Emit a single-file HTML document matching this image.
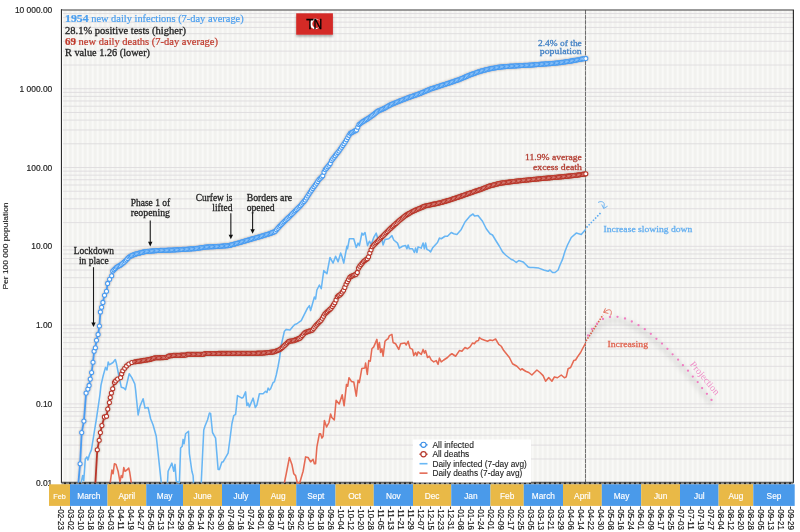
<!DOCTYPE html><html><head><meta charset="utf-8"><style>html,body{margin:0;padding:0;background:#fff;width:800px;height:532px;overflow:hidden}svg{display:block}</style></head><body>
<svg width="800" height="532" viewBox="0 0 800 532" style="will-change:transform">
<defs><pattern id="stripes" x="0.6" y="0" width="5" height="10" patternUnits="userSpaceOnUse"><rect width="5" height="10" fill="#f2f2ef"/><rect x="1.2" width="1.8" height="10" fill="#fafaf8"/></pattern><filter id="sh" x="-5%" y="-5%" width="110%" height="110%"><feGaussianBlur in="SourceAlpha" stdDeviation="0.9" result="b"/><feOffset in="b" dx="0" dy="-0.2" result="o"/><feFlood flood-color="#7a6048" flood-opacity="0.5" result="f"/><feComposite in="f" in2="o" operator="in" result="s"/><feMerge><feMergeNode in="s"/><feMergeNode in="SourceGraphic"/></feMerge></filter><filter id="sh2" x="-10%" y="-10%" width="120%" height="130%"><feGaussianBlur in="SourceAlpha" stdDeviation="1.6"/><feOffset dx="0" dy="3"/><feComponentTransfer><feFuncA type="linear" slope="0.22"/></feComponentTransfer><feMerge><feMergeNode/><feMergeNode in="SourceGraphic"/></feMerge></filter><filter id="shflag" x="-20%" y="-20%" width="140%" height="160%"><feGaussianBlur in="SourceAlpha" stdDeviation="1.2"/><feOffset dx="0" dy="1.5"/><feComponentTransfer><feFuncA type="linear" slope="0.3"/></feComponentTransfer><feMerge><feMergeNode/><feMergeNode in="SourceGraphic"/></feMerge></filter><filter id="blur3" x="-10%" y="-10%" width="120%" height="120%"><feGaussianBlur stdDeviation="2"/></filter></defs>
<rect x="61.5" y="9.95" width="731.9" height="472.75" fill="url(#stripes)"/>
<path d="M61.5 482.7H793.4M61.5 458.98H793.4M61.5 445.11H793.4M61.5 435.26H793.4M61.5 427.63H793.4M61.5 421.39H793.4M61.5 416.11H793.4M61.5 411.54H793.4M61.5 407.51H793.4M61.5 403.91H793.4M61.5 380.19H793.4M61.5 366.32H793.4M61.5 356.47H793.4M61.5 348.84H793.4M61.5 342.6H793.4M61.5 337.32H793.4M61.5 332.75H793.4M61.5 328.72H793.4M61.5 325.12H793.4M61.5 301.4H793.4M61.5 287.52H793.4M61.5 277.68H793.4M61.5 270.04H793.4M61.5 263.8H793.4M61.5 258.53H793.4M61.5 253.96H793.4M61.5 249.93H793.4M61.5 246.32H793.4M61.5 222.61H793.4M61.5 208.73H793.4M61.5 198.89H793.4M61.5 191.25H793.4M61.5 185.01H793.4M61.5 179.74H793.4M61.5 175.17H793.4M61.5 171.14H793.4M61.5 167.53H793.4M61.5 143.81H793.4M61.5 129.94H793.4M61.5 120.1H793.4M61.5 112.46H793.4M61.5 106.22H793.4M61.5 100.95H793.4M61.5 96.38H793.4M61.5 92.35H793.4M61.5 88.74H793.4M61.5 65.02H793.4M61.5 51.15H793.4M61.5 41.3H793.4M61.5 33.67H793.4M61.5 27.43H793.4M61.5 22.15H793.4M61.5 17.59H793.4M61.5 13.56H793.4" stroke="#dedbde" stroke-width="0.9" fill="none"/>
<path d="M61.0 9.95H794.0" stroke="#7a7a7a" stroke-width="1.4"/>
<path d="M61.5 9.35V482.7 M793.4 9.95V482.7" stroke="#2f2f2f" stroke-width="1.2"/>
<rect x="62.1" y="10.649999999999999" width="1" height="471.75" fill="#ffffff"/>
<path d="M61.0 482.3H794.0" stroke="#333" stroke-width="1.0"/>
<path d="M61.5 483.59999999999997H793.4" stroke="#8c8c88" stroke-width="1.6"/>
<path d="M61.5 483.3H793.4" stroke="#111" stroke-width="1.8" stroke-dasharray="1.6 3.4" stroke-dashoffset="2.3"/>
<text x="14.92" y="13.05" font-family="Liberation Sans" font-size="8.9" fill="#222" stroke="#222" stroke-width="0.18" textLength="37.38" lengthAdjust="spacingAndGlyphs">10 000.00</text>
<text x="19.6" y="91.84" font-family="Liberation Sans" font-size="8.9" fill="#222" stroke="#222" stroke-width="0.18" textLength="32.7" lengthAdjust="spacingAndGlyphs">1 000.00</text>
<text x="26.6" y="170.63" font-family="Liberation Sans" font-size="8.9" fill="#222" stroke="#222" stroke-width="0.18" textLength="25.7" lengthAdjust="spacingAndGlyphs">100.00</text>
<text x="31.28" y="249.42" font-family="Liberation Sans" font-size="8.9" fill="#222" stroke="#222" stroke-width="0.18" textLength="21.02" lengthAdjust="spacingAndGlyphs">10.00</text>
<text x="35.95" y="328.22" font-family="Liberation Sans" font-size="8.9" fill="#222" stroke="#222" stroke-width="0.18" textLength="16.35" lengthAdjust="spacingAndGlyphs">1.00</text>
<text x="35.95" y="407.01" font-family="Liberation Sans" font-size="8.9" fill="#222" stroke="#222" stroke-width="0.18" textLength="16.35" lengthAdjust="spacingAndGlyphs">0.10</text>
<text x="35.95" y="485.8" font-family="Liberation Sans" font-size="8.9" fill="#222" stroke="#222" stroke-width="0.18" textLength="16.35" lengthAdjust="spacingAndGlyphs">0.01</text>
<text transform="translate(7.9,246) rotate(-90)" text-anchor="middle" font-family="Liberation Sans" font-size="8" fill="#222" stroke="#222" stroke-width="0.12" textLength="87" lengthAdjust="spacingAndGlyphs">Per 100 000 population</text>
<rect x="49" y="484.3" width="21" height="21.6" fill="#e9b947"/>
<text x="59.5" y="498.8" text-anchor="middle" font-family="Liberation Sans" font-size="7.2" fill="#fff" stroke="#fff" stroke-width="0.15">Feb</text>
<rect x="70" y="484.3" width="37.5" height="21.6" fill="#4a9aea"/>
<text x="88.75" y="498.8" text-anchor="middle" font-family="Liberation Sans" font-size="8.3" fill="#fff" stroke="#fff" stroke-width="0.15">March</text>
<rect x="107.5" y="484.3" width="38.75" height="21.6" fill="#e9b947"/>
<text x="126.88" y="498.8" text-anchor="middle" font-family="Liberation Sans" font-size="8.3" fill="#fff" stroke="#fff" stroke-width="0.15">April</text>
<rect x="146.25" y="484.3" width="36.75" height="21.6" fill="#4a9aea"/>
<text x="164.62" y="498.8" text-anchor="middle" font-family="Liberation Sans" font-size="8.3" fill="#fff" stroke="#fff" stroke-width="0.15">May</text>
<rect x="183" y="484.3" width="39" height="21.6" fill="#e9b947"/>
<text x="202.5" y="498.8" text-anchor="middle" font-family="Liberation Sans" font-size="8.3" fill="#fff" stroke="#fff" stroke-width="0.15">June</text>
<rect x="222" y="484.3" width="38" height="21.6" fill="#4a9aea"/>
<text x="241" y="498.8" text-anchor="middle" font-family="Liberation Sans" font-size="8.3" fill="#fff" stroke="#fff" stroke-width="0.15">July</text>
<rect x="260" y="484.3" width="36.25" height="21.6" fill="#e9b947"/>
<text x="278.12" y="498.8" text-anchor="middle" font-family="Liberation Sans" font-size="8.3" fill="#fff" stroke="#fff" stroke-width="0.15">Aug</text>
<rect x="296.25" y="484.3" width="39.25" height="21.6" fill="#4a9aea"/>
<text x="315.88" y="498.8" text-anchor="middle" font-family="Liberation Sans" font-size="8.3" fill="#fff" stroke="#fff" stroke-width="0.15">Sept</text>
<rect x="335.5" y="484.3" width="38.25" height="21.6" fill="#e9b947"/>
<text x="354.62" y="498.8" text-anchor="middle" font-family="Liberation Sans" font-size="8.3" fill="#fff" stroke="#fff" stroke-width="0.15">Oct</text>
<rect x="373.75" y="484.3" width="39.25" height="21.6" fill="#4a9aea"/>
<text x="393.38" y="498.8" text-anchor="middle" font-family="Liberation Sans" font-size="8.3" fill="#fff" stroke="#fff" stroke-width="0.15">Nov</text>
<rect x="413" y="484.3" width="38.25" height="21.6" fill="#e9b947"/>
<text x="432.12" y="498.8" text-anchor="middle" font-family="Liberation Sans" font-size="8.3" fill="#fff" stroke="#fff" stroke-width="0.15">Dec</text>
<rect x="451.25" y="484.3" width="39.25" height="21.6" fill="#4a9aea"/>
<text x="470.88" y="498.8" text-anchor="middle" font-family="Liberation Sans" font-size="8.3" fill="#fff" stroke="#fff" stroke-width="0.15">Jan</text>
<rect x="490.5" y="484.3" width="33.25" height="21.6" fill="#e9b947"/>
<text x="507.12" y="498.8" text-anchor="middle" font-family="Liberation Sans" font-size="8.3" fill="#fff" stroke="#fff" stroke-width="0.15">Feb</text>
<rect x="523.75" y="484.3" width="39.25" height="21.6" fill="#4a9aea"/>
<text x="543.38" y="498.8" text-anchor="middle" font-family="Liberation Sans" font-size="8.3" fill="#fff" stroke="#fff" stroke-width="0.15">March</text>
<rect x="563" y="484.3" width="38.8" height="21.6" fill="#e9b947"/>
<text x="582.4" y="498.8" text-anchor="middle" font-family="Liberation Sans" font-size="8.3" fill="#fff" stroke="#fff" stroke-width="0.15">April</text>
<rect x="601.8" y="484.3" width="39.4" height="21.6" fill="#4a9aea"/>
<text x="621.5" y="498.8" text-anchor="middle" font-family="Liberation Sans" font-size="8.3" fill="#fff" stroke="#fff" stroke-width="0.15">May</text>
<rect x="641.2" y="484.3" width="38.8" height="21.6" fill="#e9b947"/>
<text x="660.6" y="498.8" text-anchor="middle" font-family="Liberation Sans" font-size="8.3" fill="#fff" stroke="#fff" stroke-width="0.15">Jun</text>
<rect x="680" y="484.3" width="38.6" height="21.6" fill="#4a9aea"/>
<text x="699.3" y="498.8" text-anchor="middle" font-family="Liberation Sans" font-size="8.3" fill="#fff" stroke="#fff" stroke-width="0.15">Jul</text>
<rect x="718.6" y="484.3" width="34.7" height="21.6" fill="#e9b947"/>
<text x="735.95" y="498.8" text-anchor="middle" font-family="Liberation Sans" font-size="8.3" fill="#fff" stroke="#fff" stroke-width="0.15">Aug</text>
<rect x="753.3" y="484.3" width="41.4" height="21.6" fill="#4a9aea"/>
<text x="774" y="498.8" text-anchor="middle" font-family="Liberation Sans" font-size="8.3" fill="#fff" stroke="#fff" stroke-width="0.15">Sep</text>
<text transform="translate(58.35,506.6) rotate(90)" font-family="Liberation Sans" font-size="8.8" fill="#111" stroke="#111" stroke-width="0.15" textLength="23.3" lengthAdjust="spacingAndGlyphs">-02-23</text>
<text transform="translate(68.35,506.6) rotate(90)" font-family="Liberation Sans" font-size="8.8" fill="#111" stroke="#111" stroke-width="0.15" textLength="23.3" lengthAdjust="spacingAndGlyphs">-03-02</text>
<text transform="translate(78.34,506.6) rotate(90)" font-family="Liberation Sans" font-size="8.8" fill="#111" stroke="#111" stroke-width="0.15" textLength="23.3" lengthAdjust="spacingAndGlyphs">-03-10</text>
<text transform="translate(88.34,506.6) rotate(90)" font-family="Liberation Sans" font-size="8.8" fill="#111" stroke="#111" stroke-width="0.15" textLength="23.3" lengthAdjust="spacingAndGlyphs">-03-18</text>
<text transform="translate(98.34,506.6) rotate(90)" font-family="Liberation Sans" font-size="8.8" fill="#111" stroke="#111" stroke-width="0.15" textLength="23.3" lengthAdjust="spacingAndGlyphs">-03-26</text>
<text transform="translate(108.34,506.6) rotate(90)" font-family="Liberation Sans" font-size="8.8" fill="#111" stroke="#111" stroke-width="0.15" textLength="23.3" lengthAdjust="spacingAndGlyphs">-04-03</text>
<text transform="translate(118.33,506.6) rotate(90)" font-family="Liberation Sans" font-size="8.8" fill="#111" stroke="#111" stroke-width="0.15" textLength="23.3" lengthAdjust="spacingAndGlyphs">-04-11</text>
<text transform="translate(128.33,506.6) rotate(90)" font-family="Liberation Sans" font-size="8.8" fill="#111" stroke="#111" stroke-width="0.15" textLength="23.3" lengthAdjust="spacingAndGlyphs">-04-19</text>
<text transform="translate(138.33,506.6) rotate(90)" font-family="Liberation Sans" font-size="8.8" fill="#111" stroke="#111" stroke-width="0.15" textLength="23.3" lengthAdjust="spacingAndGlyphs">-04-27</text>
<text transform="translate(148.32,506.6) rotate(90)" font-family="Liberation Sans" font-size="8.8" fill="#111" stroke="#111" stroke-width="0.15" textLength="23.3" lengthAdjust="spacingAndGlyphs">-05-05</text>
<text transform="translate(158.32,506.6) rotate(90)" font-family="Liberation Sans" font-size="8.8" fill="#111" stroke="#111" stroke-width="0.15" textLength="23.3" lengthAdjust="spacingAndGlyphs">-05-13</text>
<text transform="translate(168.32,506.6) rotate(90)" font-family="Liberation Sans" font-size="8.8" fill="#111" stroke="#111" stroke-width="0.15" textLength="23.3" lengthAdjust="spacingAndGlyphs">-05-21</text>
<text transform="translate(178.31,506.6) rotate(90)" font-family="Liberation Sans" font-size="8.8" fill="#111" stroke="#111" stroke-width="0.15" textLength="23.3" lengthAdjust="spacingAndGlyphs">-05-29</text>
<text transform="translate(188.31,506.6) rotate(90)" font-family="Liberation Sans" font-size="8.8" fill="#111" stroke="#111" stroke-width="0.15" textLength="23.3" lengthAdjust="spacingAndGlyphs">-06-06</text>
<text transform="translate(198.31,506.6) rotate(90)" font-family="Liberation Sans" font-size="8.8" fill="#111" stroke="#111" stroke-width="0.15" textLength="23.3" lengthAdjust="spacingAndGlyphs">-06-14</text>
<text transform="translate(208.3,506.6) rotate(90)" font-family="Liberation Sans" font-size="8.8" fill="#111" stroke="#111" stroke-width="0.15" textLength="23.3" lengthAdjust="spacingAndGlyphs">-06-22</text>
<text transform="translate(218.3,506.6) rotate(90)" font-family="Liberation Sans" font-size="8.8" fill="#111" stroke="#111" stroke-width="0.15" textLength="23.3" lengthAdjust="spacingAndGlyphs">-06-30</text>
<text transform="translate(228.3,506.6) rotate(90)" font-family="Liberation Sans" font-size="8.8" fill="#111" stroke="#111" stroke-width="0.15" textLength="23.3" lengthAdjust="spacingAndGlyphs">-07-08</text>
<text transform="translate(238.3,506.6) rotate(90)" font-family="Liberation Sans" font-size="8.8" fill="#111" stroke="#111" stroke-width="0.15" textLength="23.3" lengthAdjust="spacingAndGlyphs">-07-16</text>
<text transform="translate(248.29,506.6) rotate(90)" font-family="Liberation Sans" font-size="8.8" fill="#111" stroke="#111" stroke-width="0.15" textLength="23.3" lengthAdjust="spacingAndGlyphs">-07-24</text>
<text transform="translate(258.29,506.6) rotate(90)" font-family="Liberation Sans" font-size="8.8" fill="#111" stroke="#111" stroke-width="0.15" textLength="23.3" lengthAdjust="spacingAndGlyphs">-08-01</text>
<text transform="translate(268.29,506.6) rotate(90)" font-family="Liberation Sans" font-size="8.8" fill="#111" stroke="#111" stroke-width="0.15" textLength="23.3" lengthAdjust="spacingAndGlyphs">-08-09</text>
<text transform="translate(278.28,506.6) rotate(90)" font-family="Liberation Sans" font-size="8.8" fill="#111" stroke="#111" stroke-width="0.15" textLength="23.3" lengthAdjust="spacingAndGlyphs">-08-17</text>
<text transform="translate(288.28,506.6) rotate(90)" font-family="Liberation Sans" font-size="8.8" fill="#111" stroke="#111" stroke-width="0.15" textLength="23.3" lengthAdjust="spacingAndGlyphs">-08-25</text>
<text transform="translate(298.28,506.6) rotate(90)" font-family="Liberation Sans" font-size="8.8" fill="#111" stroke="#111" stroke-width="0.15" textLength="23.3" lengthAdjust="spacingAndGlyphs">-09-02</text>
<text transform="translate(308.28,506.6) rotate(90)" font-family="Liberation Sans" font-size="8.8" fill="#111" stroke="#111" stroke-width="0.15" textLength="23.3" lengthAdjust="spacingAndGlyphs">-09-10</text>
<text transform="translate(318.27,506.6) rotate(90)" font-family="Liberation Sans" font-size="8.8" fill="#111" stroke="#111" stroke-width="0.15" textLength="23.3" lengthAdjust="spacingAndGlyphs">-09-18</text>
<text transform="translate(328.27,506.6) rotate(90)" font-family="Liberation Sans" font-size="8.8" fill="#111" stroke="#111" stroke-width="0.15" textLength="23.3" lengthAdjust="spacingAndGlyphs">-09-26</text>
<text transform="translate(338.27,506.6) rotate(90)" font-family="Liberation Sans" font-size="8.8" fill="#111" stroke="#111" stroke-width="0.15" textLength="23.3" lengthAdjust="spacingAndGlyphs">-10-04</text>
<text transform="translate(348.26,506.6) rotate(90)" font-family="Liberation Sans" font-size="8.8" fill="#111" stroke="#111" stroke-width="0.15" textLength="23.3" lengthAdjust="spacingAndGlyphs">-10-12</text>
<text transform="translate(358.26,506.6) rotate(90)" font-family="Liberation Sans" font-size="8.8" fill="#111" stroke="#111" stroke-width="0.15" textLength="23.3" lengthAdjust="spacingAndGlyphs">-10-20</text>
<text transform="translate(368.26,506.6) rotate(90)" font-family="Liberation Sans" font-size="8.8" fill="#111" stroke="#111" stroke-width="0.15" textLength="23.3" lengthAdjust="spacingAndGlyphs">-10-28</text>
<text transform="translate(378.25,506.6) rotate(90)" font-family="Liberation Sans" font-size="8.8" fill="#111" stroke="#111" stroke-width="0.15" textLength="23.3" lengthAdjust="spacingAndGlyphs">-11-05</text>
<text transform="translate(388.25,506.6) rotate(90)" font-family="Liberation Sans" font-size="8.8" fill="#111" stroke="#111" stroke-width="0.15" textLength="23.3" lengthAdjust="spacingAndGlyphs">-11-13</text>
<text transform="translate(398.25,506.6) rotate(90)" font-family="Liberation Sans" font-size="8.8" fill="#111" stroke="#111" stroke-width="0.15" textLength="23.3" lengthAdjust="spacingAndGlyphs">-11-21</text>
<text transform="translate(408.25,506.6) rotate(90)" font-family="Liberation Sans" font-size="8.8" fill="#111" stroke="#111" stroke-width="0.15" textLength="23.3" lengthAdjust="spacingAndGlyphs">-11-29</text>
<text transform="translate(418.24,506.6) rotate(90)" font-family="Liberation Sans" font-size="8.8" fill="#111" stroke="#111" stroke-width="0.15" textLength="23.3" lengthAdjust="spacingAndGlyphs">-12-07</text>
<text transform="translate(428.24,506.6) rotate(90)" font-family="Liberation Sans" font-size="8.8" fill="#111" stroke="#111" stroke-width="0.15" textLength="23.3" lengthAdjust="spacingAndGlyphs">-12-15</text>
<text transform="translate(438.24,506.6) rotate(90)" font-family="Liberation Sans" font-size="8.8" fill="#111" stroke="#111" stroke-width="0.15" textLength="23.3" lengthAdjust="spacingAndGlyphs">-12-23</text>
<text transform="translate(448.23,506.6) rotate(90)" font-family="Liberation Sans" font-size="8.8" fill="#111" stroke="#111" stroke-width="0.15" textLength="23.3" lengthAdjust="spacingAndGlyphs">-12-31</text>
<text transform="translate(458.23,506.6) rotate(90)" font-family="Liberation Sans" font-size="8.8" fill="#111" stroke="#111" stroke-width="0.15" textLength="23.3" lengthAdjust="spacingAndGlyphs">-01-08</text>
<text transform="translate(468.23,506.6) rotate(90)" font-family="Liberation Sans" font-size="8.8" fill="#111" stroke="#111" stroke-width="0.15" textLength="23.3" lengthAdjust="spacingAndGlyphs">-01-16</text>
<text transform="translate(478.22,506.6) rotate(90)" font-family="Liberation Sans" font-size="8.8" fill="#111" stroke="#111" stroke-width="0.15" textLength="23.3" lengthAdjust="spacingAndGlyphs">-01-24</text>
<text transform="translate(488.22,506.6) rotate(90)" font-family="Liberation Sans" font-size="8.8" fill="#111" stroke="#111" stroke-width="0.15" textLength="23.3" lengthAdjust="spacingAndGlyphs">-02-01</text>
<text transform="translate(498.22,506.6) rotate(90)" font-family="Liberation Sans" font-size="8.8" fill="#111" stroke="#111" stroke-width="0.15" textLength="23.3" lengthAdjust="spacingAndGlyphs">-02-09</text>
<text transform="translate(508.22,506.6) rotate(90)" font-family="Liberation Sans" font-size="8.8" fill="#111" stroke="#111" stroke-width="0.15" textLength="23.3" lengthAdjust="spacingAndGlyphs">-02-17</text>
<text transform="translate(518.21,506.6) rotate(90)" font-family="Liberation Sans" font-size="8.8" fill="#111" stroke="#111" stroke-width="0.15" textLength="23.3" lengthAdjust="spacingAndGlyphs">-02-25</text>
<text transform="translate(528.21,506.6) rotate(90)" font-family="Liberation Sans" font-size="8.8" fill="#111" stroke="#111" stroke-width="0.15" textLength="23.3" lengthAdjust="spacingAndGlyphs">-03-05</text>
<text transform="translate(538.21,506.6) rotate(90)" font-family="Liberation Sans" font-size="8.8" fill="#111" stroke="#111" stroke-width="0.15" textLength="23.3" lengthAdjust="spacingAndGlyphs">-03-13</text>
<text transform="translate(548.2,506.6) rotate(90)" font-family="Liberation Sans" font-size="8.8" fill="#111" stroke="#111" stroke-width="0.15" textLength="23.3" lengthAdjust="spacingAndGlyphs">-03-21</text>
<text transform="translate(558.2,506.6) rotate(90)" font-family="Liberation Sans" font-size="8.8" fill="#111" stroke="#111" stroke-width="0.15" textLength="23.3" lengthAdjust="spacingAndGlyphs">-03-29</text>
<text transform="translate(568.2,506.6) rotate(90)" font-family="Liberation Sans" font-size="8.8" fill="#111" stroke="#111" stroke-width="0.15" textLength="23.3" lengthAdjust="spacingAndGlyphs">-04-06</text>
<text transform="translate(578.19,506.6) rotate(90)" font-family="Liberation Sans" font-size="8.8" fill="#111" stroke="#111" stroke-width="0.15" textLength="23.3" lengthAdjust="spacingAndGlyphs">-04-14</text>
<text transform="translate(588.19,506.6) rotate(90)" font-family="Liberation Sans" font-size="8.8" fill="#111" stroke="#111" stroke-width="0.15" textLength="23.3" lengthAdjust="spacingAndGlyphs">-04-22</text>
<text transform="translate(598.19,506.6) rotate(90)" font-family="Liberation Sans" font-size="8.8" fill="#111" stroke="#111" stroke-width="0.15" textLength="23.3" lengthAdjust="spacingAndGlyphs">-04-30</text>
<text transform="translate(608.19,506.6) rotate(90)" font-family="Liberation Sans" font-size="8.8" fill="#111" stroke="#111" stroke-width="0.15" textLength="23.3" lengthAdjust="spacingAndGlyphs">-05-08</text>
<text transform="translate(618.18,506.6) rotate(90)" font-family="Liberation Sans" font-size="8.8" fill="#111" stroke="#111" stroke-width="0.15" textLength="23.3" lengthAdjust="spacingAndGlyphs">-05-16</text>
<text transform="translate(628.18,506.6) rotate(90)" font-family="Liberation Sans" font-size="8.8" fill="#111" stroke="#111" stroke-width="0.15" textLength="23.3" lengthAdjust="spacingAndGlyphs">-05-24</text>
<text transform="translate(638.18,506.6) rotate(90)" font-family="Liberation Sans" font-size="8.8" fill="#111" stroke="#111" stroke-width="0.15" textLength="23.3" lengthAdjust="spacingAndGlyphs">-06-01</text>
<text transform="translate(648.17,506.6) rotate(90)" font-family="Liberation Sans" font-size="8.8" fill="#111" stroke="#111" stroke-width="0.15" textLength="23.3" lengthAdjust="spacingAndGlyphs">-06-09</text>
<text transform="translate(658.17,506.6) rotate(90)" font-family="Liberation Sans" font-size="8.8" fill="#111" stroke="#111" stroke-width="0.15" textLength="23.3" lengthAdjust="spacingAndGlyphs">-06-17</text>
<text transform="translate(668.17,506.6) rotate(90)" font-family="Liberation Sans" font-size="8.8" fill="#111" stroke="#111" stroke-width="0.15" textLength="23.3" lengthAdjust="spacingAndGlyphs">-06-25</text>
<text transform="translate(678.16,506.6) rotate(90)" font-family="Liberation Sans" font-size="8.8" fill="#111" stroke="#111" stroke-width="0.15" textLength="23.3" lengthAdjust="spacingAndGlyphs">-07-03</text>
<text transform="translate(688.16,506.6) rotate(90)" font-family="Liberation Sans" font-size="8.8" fill="#111" stroke="#111" stroke-width="0.15" textLength="23.3" lengthAdjust="spacingAndGlyphs">-07-11</text>
<text transform="translate(698.16,506.6) rotate(90)" font-family="Liberation Sans" font-size="8.8" fill="#111" stroke="#111" stroke-width="0.15" textLength="23.3" lengthAdjust="spacingAndGlyphs">-07-19</text>
<text transform="translate(708.15,506.6) rotate(90)" font-family="Liberation Sans" font-size="8.8" fill="#111" stroke="#111" stroke-width="0.15" textLength="23.3" lengthAdjust="spacingAndGlyphs">-07-27</text>
<text transform="translate(718.15,506.6) rotate(90)" font-family="Liberation Sans" font-size="8.8" fill="#111" stroke="#111" stroke-width="0.15" textLength="23.3" lengthAdjust="spacingAndGlyphs">-08-04</text>
<text transform="translate(728.15,506.6) rotate(90)" font-family="Liberation Sans" font-size="8.8" fill="#111" stroke="#111" stroke-width="0.15" textLength="23.3" lengthAdjust="spacingAndGlyphs">-08-12</text>
<text transform="translate(738.15,506.6) rotate(90)" font-family="Liberation Sans" font-size="8.8" fill="#111" stroke="#111" stroke-width="0.15" textLength="23.3" lengthAdjust="spacingAndGlyphs">-08-20</text>
<text transform="translate(748.14,506.6) rotate(90)" font-family="Liberation Sans" font-size="8.8" fill="#111" stroke="#111" stroke-width="0.15" textLength="23.3" lengthAdjust="spacingAndGlyphs">-08-28</text>
<text transform="translate(758.14,506.6) rotate(90)" font-family="Liberation Sans" font-size="8.8" fill="#111" stroke="#111" stroke-width="0.15" textLength="23.3" lengthAdjust="spacingAndGlyphs">-09-05</text>
<text transform="translate(768.14,506.6) rotate(90)" font-family="Liberation Sans" font-size="8.8" fill="#111" stroke="#111" stroke-width="0.15" textLength="23.3" lengthAdjust="spacingAndGlyphs">-09-13</text>
<text transform="translate(778.13,506.6) rotate(90)" font-family="Liberation Sans" font-size="8.8" fill="#111" stroke="#111" stroke-width="0.15" textLength="23.3" lengthAdjust="spacingAndGlyphs">-09-21</text>
<text transform="translate(788.13,506.6) rotate(90)" font-family="Liberation Sans" font-size="8.8" fill="#111" stroke="#111" stroke-width="0.15" textLength="23.3" lengthAdjust="spacingAndGlyphs">-09-29</text>
<rect x="413" y="439.5" width="118" height="43" fill="#ffffff"/>
<g font-family="Liberation Sans" font-size="8.5" fill="#1a1a1a" stroke="#1a1a1a" stroke-width="0.1">
<path d="M419.5 444.8H427.5" stroke="#3c8fe6" stroke-width="1.6"/><circle cx="423.5" cy="444.8" r="2.6" fill="#fff" stroke="#3c8fe6" stroke-width="1.1"/>
<text x="432.4" y="447.8" textLength="41.5" lengthAdjust="spacingAndGlyphs">All infected</text>
<path d="M419.5 454.25H427.5" stroke="#b5372b" stroke-width="1.6"/><circle cx="423.5" cy="454.25" r="2.6" fill="#fff" stroke="#b5372b" stroke-width="1.1"/>
<text x="432.4" y="457.25" textLength="36.9" lengthAdjust="spacingAndGlyphs">All deaths</text>
<path d="M419.5 463.7H427.5" stroke="#6ab8f5" stroke-width="1.6"/>
<text x="432.4" y="466.7" textLength="94.5" lengthAdjust="spacingAndGlyphs">Daily infected (7-day avg)</text>
<path d="M419.5 473.15H427.5" stroke="#e36a55" stroke-width="1.6"/>
<text x="432.4" y="476.15" textLength="89.9" lengthAdjust="spacingAndGlyphs">Daily deaths (7-day avg)</text>
</g>
<path d="M585.5 9.95V482.7" stroke="#4d4d4d" stroke-width="0.8" stroke-dasharray="4.5 0.6"/>
<polyline points="81.2,482.7 82.7,475.5 83.75,480.7 85.3,459 86.9,456.9 87.9,460 89.4,454.8 91.5,449.6 93.1,439.3 94.6,430 96.25,420 99.9,395 101,385.1 103.3,375.3 105.5,367.4 107,370 108.2,362.1 109.3,364.8 113,362.5 115.3,359.5 116.4,363.3 118.3,373 121.3,387.3 123.9,388.1 125.5,389.6 129.2,373.8 131.8,377.6 134.8,384 135.6,390 138.1,415 140,406.25 143.1,398.75 145,408.1 148.1,407.5 150.6,418.75 153.1,425 156.25,436.25 161.25,482.7" fill="none" stroke="#68b6f4" stroke-width="1.55" stroke-linejoin="round"/>
<polyline points="167.5,482.7 168.1,471.25 171.9,463.1 173.75,471.25 175,464.4 176.25,481.25 179.4,482.7 180.6,448.1 182.25,446.25 183.1,439.4 184.1,443.75 185.6,433.75 188.5,431.25 189.4,453.75 191.9,471.25 193.1,475.6 193.5,482.7" fill="none" stroke="#68b6f4" stroke-width="1.55" stroke-linejoin="round"/>
<polyline points="201.25,482.7 203.75,430 205,426 207.5,420 209.4,413.1 210.6,413.5 212.5,432.5 215.6,438.1 218.1,469.4 219.4,469.4 221.9,461.9 223.1,461.9 228.1,453.1 230,438.75 231.9,423.75 233.75,415.6 235.6,414.4 237.5,395.6 241.9,398.1 243.1,397.5 245.6,391.9 246.9,405.6 248.1,403.1 249.4,406.9 253.1,398.1 255.3,407.5 256.9,405 259.4,393.75 263.1,393.75 265.6,391.25 266.9,392.5 268.1,388.1 269.4,390 270.6,388.75 273.1,382.5 274.4,381.9 276.25,375 278.1,366.25 279.6,358 281.25,345 284.4,331.25 286.25,329.4 290,330 293.1,326.25 295,324.4 296.9,323.75 299.4,321.9 301.25,320.6 303.1,316.9 305,313.1 307.5,308.1 309.4,305.6 310.6,310.6 312.5,303.75 314.4,297 315.6,299 316.9,290 319.4,285 321.25,288.75 323.75,270.6 326.9,273.75 330,257.5 333.1,263.1 335.6,256.25 338.1,261.9 340.6,253.1 341.9,256.25 343.75,263.1 346.9,246.25 347.5,248.75 349.4,238.75 353.75,238.75 356.25,247.5 358.1,243.1 359.4,245.6 361.9,233.1 363.1,235 365,232.5 367.5,245.6 369.4,241.25 371.25,244.4 373.75,237.5 376.25,233.1 378.1,240 381.25,236.25 383.1,245 385,239.4 388.75,238.75 391.9,235.6 393.75,240 397.5,243.1 399.4,248.1 402.5,246.25 405.6,245.6 406.9,248.75 408.1,245 409.4,248.75 412.5,248.75 414.4,252.5 415.6,248.1 416.9,252.5 418.1,246.9 421.25,248.1 423.1,243.1 424.4,248.75 425.6,243.1 426.9,249.4 429.4,250.6 430.6,251.9 432.5,248.1 437.5,242.5 439.4,238.1 441.25,238.75 445,236.25 447.5,236.25 451.25,232.5 453.75,233.75 456.9,234.4 461.25,229.4 465,222 470,216 473,214 474.5,216 478,215.5 482.5,221.25 486.25,228.75 490,233.75 492.5,235 496.25,241.25 499.4,246.25 502.5,251.9 505.6,255 508.75,257.5 511.25,259.4 513.1,260 516.25,262.5 518.75,260.6 523.1,261.9 526.25,265 528.1,266.9 530,267.5 533.1,267.5 538.75,268.1 543.75,270 548.1,271.25 550,270 552.5,272.5 555,272.5 558.1,270 560,265 562.5,259.4 565,251.25 567.5,245 571.25,237.5 576.25,233.1 581.25,234.4 585.6,229.4" fill="none" stroke="#68b6f4" stroke-width="1.55" stroke-linejoin="round"/>
<polyline points="110.25,482.7 111.9,470 113.1,473.75 114.4,463.75 116,464.4 118.1,471.25 120,481.9 121.25,475.6 122.5,477.5 123.75,467.5 125,471.25 126.9,470 128.75,468.1 129.75,472.5 131.25,482.7" fill="none" stroke="#e56a53" stroke-width="1.55" stroke-linejoin="round"/>
<polyline points="284.4,482.7 286.25,473.75 289.4,457.5 291.9,464.4 293.75,473.75 295.6,475.6 297.25,482.7 299.75,482.7 303.1,471.25 305.6,456.9 308.1,457.5 310.6,461.9 313.1,459.4 314.4,463.75 315.6,463.75 316.9,446.9 319.4,433.75 320.6,433.75 321.9,438.1 323.1,436.25 324.4,420.5 326.6,427 329,422.5 330.6,414 331.8,417.5 334.3,420 336.1,400.3 339.2,404 342.2,394.8 344.1,405.8 346.5,384.4 347.7,386.3 349,377.7 351.4,381.4 353.8,382 356.3,396.1 358.1,380.2 359.3,382.6 361.8,368.6 364.8,368 365.6,363.1 367.3,374.4 368.75,360.6 370.25,361.25 371.9,348.75 373.75,346.9 376.9,339.4 378.1,349.4 379.4,342.5 380.6,352.5 381.9,348.75 383.1,356.25 385,341.25 386.9,339.4 388.1,338.75 389.4,335.6 391.9,334.4 393.1,342.5 395.6,343.75 398.75,349.4 400.6,343.75 405,343.1 406.25,345 408.1,341.25 410,348.1 412.5,349.4 413.75,355.6 415.6,352.5 416.9,355.6 418.1,351.9 421.25,354.4 423.1,349.4 424.4,353.1 425.6,350.6 427.5,357.5 429.4,356.25 431.25,360 433.75,361.9 436.25,360.6 438.1,364.4 439.4,358.1 441.25,361.9 443.75,360 447.5,357.5 450,355 451.9,353.75 455.6,356.25 459.4,350.6 461.9,351.25 465,347.5 467.5,348.75 470,346.9 472.5,343.1 474.4,343.75 476.25,341.25 478.5,340.6 479.4,337.5 481.25,339 487.5,341.25 490,340 492.5,340.6 495.6,339 498.75,344.4 501.25,346.25 503.75,350.6 509.4,357.5 512.5,363.75 516.9,366.25 520.6,370 521.9,368.75 525.6,371.25 528.75,372.5 531.9,375 536.9,370 540,372.5 543.1,375.6 545.6,381.25 548.75,377.5 551.9,381.25 554.4,376.9 557.5,377.75 561.25,375 564.4,377.75 566.25,376.9 568.1,368.75 570.6,367.5 573.75,360.6 575.6,360 577.5,356.9 580.6,352.5 582.5,348.75 585.6,343.1" fill="none" stroke="#e56a53" stroke-width="1.55" stroke-linejoin="round"/>
<g filter="url(#sh)"><polyline points="95.4,482.7 97.3,449.8 99.2,440.2 100.4,432.6 101.9,425.6 104.4,416.9 106.5,416.25 107.75,409.1 109.4,402.5 110.25,397.5 111.4,393 112.7,388.8 114.5,382.4 115.7,380.9 117.6,379.1 120.6,377.6 121.7,373.8 122.8,370.8 124.7,368.2 126.6,365.9 128.8,364 131.8,362.5 134.8,361.8 140,361 150,359.4 155,357.8 166.25,357.5 168.75,356 173.75,355.4 186.25,355 187.5,354.2 203.75,354.2 205,353.5 250,353.3 262.5,353.1 273.75,351.9 280,349.4 285,345 288.75,341.25 293.75,340.6 300,338.1 305,332.5 312.5,330 316.25,325 321.25,320 325,313.75 331.25,308.1 335,302.5 337.5,296.25 340.6,294.4 343.75,290 346.25,283.75 350,276.9 356.9,273.75 358.75,267.5 363.75,261.25 368.1,258.1 370,252.5 372.5,246.25 378.75,240 385,233.75 388.75,230 400,219.8 406.25,215 412.5,211.4 425,206 440,202.8 450,199.9 460,196.5 470,193 480,189.6 490,185.8 500,183.2 510,181.9 520,180.7 530,179.7 540,178.7 550,177.8 560,176.9 570,175.9 578,175 585.8,173.8" fill="none" stroke="#b8362a" stroke-width="1.8" stroke-linejoin="round"/><g fill="#fff" stroke="#b8362a" stroke-width="1.05"><circle cx="97.3" cy="449.8" r="2.05"/><circle cx="99.2" cy="440.2" r="2.05"/><circle cx="100.4" cy="432.6" r="2.05"/><circle cx="101.9" cy="425.6" r="2.05"/><circle cx="104.4" cy="416.9" r="2.05"/><circle cx="106.5" cy="416.25" r="2.05"/><circle cx="107.75" cy="409.1" r="2.05"/><circle cx="109.4" cy="402.5" r="2.05"/><circle cx="110.25" cy="397.5" r="2.05"/><circle cx="111.4" cy="393" r="2.05"/><circle cx="112.7" cy="388.8" r="2.05"/><circle cx="114.5" cy="382.4" r="2.05"/><circle cx="115.7" cy="380.9" r="2.05"/><circle cx="117.6" cy="379.1" r="2.05"/><circle cx="120.6" cy="377.6" r="2.05"/><circle cx="121.7" cy="373.8" r="2.05"/><circle cx="122.8" cy="370.8" r="2.05"/><circle cx="124.7" cy="368.2" r="2.05"/><circle cx="126.6" cy="365.9" r="2.05"/><circle cx="128.8" cy="364" r="2.05"/><circle cx="131.8" cy="362.5" r="2.05"/><circle cx="134.8" cy="361.8" r="2.05"/><circle cx="136.05" cy="361.61" r="2.05"/><circle cx="137.3" cy="361.42" r="2.05"/><circle cx="138.55" cy="361.22" r="2.05"/><circle cx="139.8" cy="361.03" r="2.05"/><circle cx="141.05" cy="360.83" r="2.05"/><circle cx="142.3" cy="360.63" r="2.05"/><circle cx="143.55" cy="360.43" r="2.05"/><circle cx="144.8" cy="360.23" r="2.05"/><circle cx="146.05" cy="360.03" r="2.05"/><circle cx="147.3" cy="359.83" r="2.05"/><circle cx="148.55" cy="359.63" r="2.05"/><circle cx="149.8" cy="359.43" r="2.05"/><circle cx="151.05" cy="359.06" r="2.05"/><circle cx="152.3" cy="358.66" r="2.05"/><circle cx="153.55" cy="358.26" r="2.05"/><circle cx="154.8" cy="357.86" r="2.05"/><circle cx="156.05" cy="357.77" r="2.05"/><circle cx="157.3" cy="357.74" r="2.05"/><circle cx="158.55" cy="357.71" r="2.05"/><circle cx="159.8" cy="357.67" r="2.05"/><circle cx="161.05" cy="357.64" r="2.05"/><circle cx="162.3" cy="357.61" r="2.05"/><circle cx="163.55" cy="357.57" r="2.05"/><circle cx="164.8" cy="357.54" r="2.05"/><circle cx="166.05" cy="357.51" r="2.05"/><circle cx="167.3" cy="356.87" r="2.05"/><circle cx="168.55" cy="356.12" r="2.05"/><circle cx="169.8" cy="355.87" r="2.05"/><circle cx="171.05" cy="355.72" r="2.05"/><circle cx="172.3" cy="355.57" r="2.05"/><circle cx="173.55" cy="355.42" r="2.05"/><circle cx="174.8" cy="355.37" r="2.05"/><circle cx="176.05" cy="355.33" r="2.05"/><circle cx="177.3" cy="355.29" r="2.05"/><circle cx="178.55" cy="355.25" r="2.05"/><circle cx="179.8" cy="355.21" r="2.05"/><circle cx="181.05" cy="355.17" r="2.05"/><circle cx="182.3" cy="355.13" r="2.05"/><circle cx="183.55" cy="355.09" r="2.05"/><circle cx="184.8" cy="355.05" r="2.05"/><circle cx="186.05" cy="355.01" r="2.05"/><circle cx="187.3" cy="354.33" r="2.05"/><circle cx="188.55" cy="354.2" r="2.05"/><circle cx="189.8" cy="354.2" r="2.05"/><circle cx="191.05" cy="354.2" r="2.05"/><circle cx="192.3" cy="354.2" r="2.05"/><circle cx="193.55" cy="354.2" r="2.05"/><circle cx="194.8" cy="354.2" r="2.05"/><circle cx="196.05" cy="354.2" r="2.05"/><circle cx="197.3" cy="354.2" r="2.05"/><circle cx="198.55" cy="354.2" r="2.05"/><circle cx="199.8" cy="354.2" r="2.05"/><circle cx="201.05" cy="354.2" r="2.05"/><circle cx="202.3" cy="354.2" r="2.05"/><circle cx="203.55" cy="354.2" r="2.05"/><circle cx="204.8" cy="353.61" r="2.05"/><circle cx="206.05" cy="353.5" r="2.05"/><circle cx="207.3" cy="353.49" r="2.05"/><circle cx="208.55" cy="353.48" r="2.05"/><circle cx="209.8" cy="353.48" r="2.05"/><circle cx="211.05" cy="353.47" r="2.05"/><circle cx="212.3" cy="353.47" r="2.05"/><circle cx="213.55" cy="353.46" r="2.05"/><circle cx="214.8" cy="353.46" r="2.05"/><circle cx="216.05" cy="353.45" r="2.05"/><circle cx="217.3" cy="353.45" r="2.05"/><circle cx="218.55" cy="353.44" r="2.05"/><circle cx="219.8" cy="353.43" r="2.05"/><circle cx="221.05" cy="353.43" r="2.05"/><circle cx="222.3" cy="353.42" r="2.05"/><circle cx="223.55" cy="353.42" r="2.05"/><circle cx="224.8" cy="353.41" r="2.05"/><circle cx="226.05" cy="353.41" r="2.05"/><circle cx="227.3" cy="353.4" r="2.05"/><circle cx="228.55" cy="353.4" r="2.05"/><circle cx="229.8" cy="353.39" r="2.05"/><circle cx="231.05" cy="353.38" r="2.05"/><circle cx="232.3" cy="353.38" r="2.05"/><circle cx="233.55" cy="353.37" r="2.05"/><circle cx="234.8" cy="353.37" r="2.05"/><circle cx="236.05" cy="353.36" r="2.05"/><circle cx="237.3" cy="353.36" r="2.05"/><circle cx="238.55" cy="353.35" r="2.05"/><circle cx="239.8" cy="353.35" r="2.05"/><circle cx="241.05" cy="353.34" r="2.05"/><circle cx="242.3" cy="353.33" r="2.05"/><circle cx="243.55" cy="353.33" r="2.05"/><circle cx="244.8" cy="353.32" r="2.05"/><circle cx="246.05" cy="353.32" r="2.05"/><circle cx="247.3" cy="353.31" r="2.05"/><circle cx="248.55" cy="353.31" r="2.05"/><circle cx="249.8" cy="353.3" r="2.05"/><circle cx="251.05" cy="353.28" r="2.05"/><circle cx="252.3" cy="353.26" r="2.05"/><circle cx="253.55" cy="353.24" r="2.05"/><circle cx="254.8" cy="353.22" r="2.05"/><circle cx="256.05" cy="353.2" r="2.05"/><circle cx="257.3" cy="353.18" r="2.05"/><circle cx="258.55" cy="353.16" r="2.05"/><circle cx="259.8" cy="353.14" r="2.05"/><circle cx="261.05" cy="353.12" r="2.05"/><circle cx="262.3" cy="353.1" r="2.05"/><circle cx="263.55" cy="352.99" r="2.05"/><circle cx="264.8" cy="352.85" r="2.05"/><circle cx="266.05" cy="352.72" r="2.05"/><circle cx="267.3" cy="352.59" r="2.05"/><circle cx="268.55" cy="352.45" r="2.05"/><circle cx="269.8" cy="352.32" r="2.05"/><circle cx="271.05" cy="352.19" r="2.05"/><circle cx="272.3" cy="352.05" r="2.05"/><circle cx="273.55" cy="351.92" r="2.05"/><circle cx="274.8" cy="351.48" r="2.05"/><circle cx="276.05" cy="350.98" r="2.05"/><circle cx="277.3" cy="350.48" r="2.05"/><circle cx="278.55" cy="349.98" r="2.05"/><circle cx="279.8" cy="349.48" r="2.05"/><circle cx="281.05" cy="348.48" r="2.05"/><circle cx="282.3" cy="347.38" r="2.05"/><circle cx="283.55" cy="346.28" r="2.05"/><circle cx="284.8" cy="345.18" r="2.05"/><circle cx="286.05" cy="343.95" r="2.05"/><circle cx="287.3" cy="342.7" r="2.05"/><circle cx="288.55" cy="341.45" r="2.05"/><circle cx="289.8" cy="341.11" r="2.05"/><circle cx="291.05" cy="340.95" r="2.05"/><circle cx="292.3" cy="340.79" r="2.05"/><circle cx="293.55" cy="340.63" r="2.05"/><circle cx="294.8" cy="340.18" r="2.05"/><circle cx="296.05" cy="339.68" r="2.05"/><circle cx="297.3" cy="339.18" r="2.05"/><circle cx="298.55" cy="338.68" r="2.05"/><circle cx="299.8" cy="338.18" r="2.05"/><circle cx="301.05" cy="336.92" r="2.05"/><circle cx="302.3" cy="335.52" r="2.05"/><circle cx="303.55" cy="334.12" r="2.05"/><circle cx="304.8" cy="332.72" r="2.05"/><circle cx="306.05" cy="332.15" r="2.05"/><circle cx="307.3" cy="331.73" r="2.05"/><circle cx="308.55" cy="331.32" r="2.05"/><circle cx="309.8" cy="330.9" r="2.05"/><circle cx="311.05" cy="330.48" r="2.05"/><circle cx="312.3" cy="330.07" r="2.05"/><circle cx="313.55" cy="328.6" r="2.05"/><circle cx="314.8" cy="326.93" r="2.05"/><circle cx="316.05" cy="325.27" r="2.05"/><circle cx="317.3" cy="323.95" r="2.05"/><circle cx="318.55" cy="322.7" r="2.05"/><circle cx="319.8" cy="321.45" r="2.05"/><circle cx="321.05" cy="320.2" r="2.05"/><circle cx="322.3" cy="318.25" r="2.05"/><circle cx="323.55" cy="316.17" r="2.05"/><circle cx="324.8" cy="314.08" r="2.05"/><circle cx="326.05" cy="312.8" r="2.05"/><circle cx="327.3" cy="311.67" r="2.05"/><circle cx="328.55" cy="310.54" r="2.05"/><circle cx="329.8" cy="309.41" r="2.05"/><circle cx="331.05" cy="308.28" r="2.05"/><circle cx="332.3" cy="306.53" r="2.05"/><circle cx="333.55" cy="304.67" r="2.05"/><circle cx="334.8" cy="302.8" r="2.05"/><circle cx="336.05" cy="299.88" r="2.05"/><circle cx="337.3" cy="296.75" r="2.05"/><circle cx="338.55" cy="295.62" r="2.05"/><circle cx="339.8" cy="294.88" r="2.05"/><circle cx="341.05" cy="293.77" r="2.05"/><circle cx="342.3" cy="292.03" r="2.05"/><circle cx="343.55" cy="290.28" r="2.05"/><circle cx="344.8" cy="287.38" r="2.05"/><circle cx="346.05" cy="284.25" r="2.05"/><circle cx="347.3" cy="281.83" r="2.05"/><circle cx="348.55" cy="279.55" r="2.05"/><circle cx="349.8" cy="277.27" r="2.05"/><circle cx="351.05" cy="276.42" r="2.05"/><circle cx="352.3" cy="275.85" r="2.05"/><circle cx="353.55" cy="275.28" r="2.05"/><circle cx="354.8" cy="274.71" r="2.05"/><circle cx="356.05" cy="274.14" r="2.05"/><circle cx="357.3" cy="272.4" r="2.05"/><circle cx="358.55" cy="268.18" r="2.05"/><circle cx="359.8" cy="266.19" r="2.05"/><circle cx="361.05" cy="264.62" r="2.05"/><circle cx="362.3" cy="263.06" r="2.05"/><circle cx="363.55" cy="261.5" r="2.05"/><circle cx="364.8" cy="260.49" r="2.05"/><circle cx="366.05" cy="259.58" r="2.05"/><circle cx="367.3" cy="258.68" r="2.05"/><circle cx="368.55" cy="256.77" r="2.05"/><circle cx="369.8" cy="253.09" r="2.05"/><circle cx="371.05" cy="249.87" r="2.05"/><circle cx="372.3" cy="246.75" r="2.05"/><circle cx="373.55" cy="245.2" r="2.05"/><circle cx="374.8" cy="243.95" r="2.05"/><circle cx="376.05" cy="242.7" r="2.05"/><circle cx="377.3" cy="241.45" r="2.05"/><circle cx="378.55" cy="240.2" r="2.05"/><circle cx="379.8" cy="238.95" r="2.05"/><circle cx="381.05" cy="237.7" r="2.05"/><circle cx="382.3" cy="236.45" r="2.05"/><circle cx="383.55" cy="235.2" r="2.05"/><circle cx="384.8" cy="233.95" r="2.05"/><circle cx="386.05" cy="232.7" r="2.05"/><circle cx="387.3" cy="231.45" r="2.05"/><circle cx="388.55" cy="230.2" r="2.05"/><circle cx="389.8" cy="229.05" r="2.05"/><circle cx="391.05" cy="227.91" r="2.05"/><circle cx="392.3" cy="226.78" r="2.05"/><circle cx="393.55" cy="225.65" r="2.05"/><circle cx="394.8" cy="224.51" r="2.05"/><circle cx="396.05" cy="223.38" r="2.05"/><circle cx="397.3" cy="222.25" r="2.05"/><circle cx="398.55" cy="221.11" r="2.05"/><circle cx="399.8" cy="219.98" r="2.05"/><circle cx="401.05" cy="218.99" r="2.05"/><circle cx="402.3" cy="218.03" r="2.05"/><circle cx="403.55" cy="217.07" r="2.05"/><circle cx="404.8" cy="216.11" r="2.05"/><circle cx="406.05" cy="215.15" r="2.05"/><circle cx="407.3" cy="214.4" r="2.05"/><circle cx="408.55" cy="213.68" r="2.05"/><circle cx="409.8" cy="212.96" r="2.05"/><circle cx="411.05" cy="212.24" r="2.05"/><circle cx="412.3" cy="211.52" r="2.05"/><circle cx="413.55" cy="210.95" r="2.05"/><circle cx="414.8" cy="210.41" r="2.05"/><circle cx="416.05" cy="209.87" r="2.05"/><circle cx="417.3" cy="209.33" r="2.05"/><circle cx="418.55" cy="208.79" r="2.05"/><circle cx="419.8" cy="208.25" r="2.05"/><circle cx="421.05" cy="207.71" r="2.05"/><circle cx="422.3" cy="207.17" r="2.05"/><circle cx="423.55" cy="206.63" r="2.05"/><circle cx="424.8" cy="206.09" r="2.05"/><circle cx="426.05" cy="205.78" r="2.05"/><circle cx="427.3" cy="205.51" r="2.05"/><circle cx="428.55" cy="205.24" r="2.05"/><circle cx="429.8" cy="204.98" r="2.05"/><circle cx="431.05" cy="204.71" r="2.05"/><circle cx="432.3" cy="204.44" r="2.05"/><circle cx="433.55" cy="204.18" r="2.05"/><circle cx="434.8" cy="203.91" r="2.05"/><circle cx="436.05" cy="203.64" r="2.05"/><circle cx="437.3" cy="203.38" r="2.05"/><circle cx="438.55" cy="203.11" r="2.05"/><circle cx="439.8" cy="202.84" r="2.05"/><circle cx="441.05" cy="202.5" r="2.05"/><circle cx="442.3" cy="202.13" r="2.05"/><circle cx="443.55" cy="201.77" r="2.05"/><circle cx="444.8" cy="201.41" r="2.05"/><circle cx="446.05" cy="201.05" r="2.05"/><circle cx="447.3" cy="200.68" r="2.05"/><circle cx="448.55" cy="200.32" r="2.05"/><circle cx="449.8" cy="199.96" r="2.05"/><circle cx="451.05" cy="199.54" r="2.05"/><circle cx="452.3" cy="199.12" r="2.05"/><circle cx="453.55" cy="198.69" r="2.05"/><circle cx="454.8" cy="198.27" r="2.05"/><circle cx="456.05" cy="197.84" r="2.05"/><circle cx="457.3" cy="197.42" r="2.05"/><circle cx="458.55" cy="196.99" r="2.05"/><circle cx="459.8" cy="196.57" r="2.05"/><circle cx="461.05" cy="196.13" r="2.05"/><circle cx="462.3" cy="195.69" r="2.05"/><circle cx="463.55" cy="195.26" r="2.05"/><circle cx="464.8" cy="194.82" r="2.05"/><circle cx="466.05" cy="194.38" r="2.05"/><circle cx="467.3" cy="193.94" r="2.05"/><circle cx="468.55" cy="193.51" r="2.05"/><circle cx="469.8" cy="193.07" r="2.05"/><circle cx="471.05" cy="192.64" r="2.05"/><circle cx="472.3" cy="192.22" r="2.05"/><circle cx="473.55" cy="191.79" r="2.05"/><circle cx="474.8" cy="191.37" r="2.05"/><circle cx="476.05" cy="190.94" r="2.05"/><circle cx="477.3" cy="190.52" r="2.05"/><circle cx="478.55" cy="190.09" r="2.05"/><circle cx="479.8" cy="189.67" r="2.05"/><circle cx="481.05" cy="189.2" r="2.05"/><circle cx="482.3" cy="188.73" r="2.05"/><circle cx="483.55" cy="188.25" r="2.05"/><circle cx="484.8" cy="187.78" r="2.05"/><circle cx="486.05" cy="187.3" r="2.05"/><circle cx="487.3" cy="186.83" r="2.05"/><circle cx="488.55" cy="186.35" r="2.05"/><circle cx="489.8" cy="185.88" r="2.05"/><circle cx="491.05" cy="185.53" r="2.05"/><circle cx="492.3" cy="185.2" r="2.05"/><circle cx="493.55" cy="184.88" r="2.05"/><circle cx="494.8" cy="184.55" r="2.05"/><circle cx="496.05" cy="184.23" r="2.05"/><circle cx="497.3" cy="183.9" r="2.05"/><circle cx="498.55" cy="183.58" r="2.05"/><circle cx="499.8" cy="183.25" r="2.05"/><circle cx="501.05" cy="183.06" r="2.05"/><circle cx="502.3" cy="182.9" r="2.05"/><circle cx="503.55" cy="182.74" r="2.05"/><circle cx="504.8" cy="182.58" r="2.05"/><circle cx="506.05" cy="182.41" r="2.05"/><circle cx="507.3" cy="182.25" r="2.05"/><circle cx="508.55" cy="182.09" r="2.05"/><circle cx="509.8" cy="181.93" r="2.05"/><circle cx="511.05" cy="181.77" r="2.05"/><circle cx="512.3" cy="181.62" r="2.05"/><circle cx="513.55" cy="181.47" r="2.05"/><circle cx="514.8" cy="181.32" r="2.05"/><circle cx="516.05" cy="181.17" r="2.05"/><circle cx="517.3" cy="181.02" r="2.05"/><circle cx="518.55" cy="180.87" r="2.05"/><circle cx="519.8" cy="180.72" r="2.05"/><circle cx="521.05" cy="180.59" r="2.05"/><circle cx="522.3" cy="180.47" r="2.05"/><circle cx="523.55" cy="180.34" r="2.05"/><circle cx="524.8" cy="180.22" r="2.05"/><circle cx="526.05" cy="180.09" r="2.05"/><circle cx="527.3" cy="179.97" r="2.05"/><circle cx="528.55" cy="179.84" r="2.05"/><circle cx="529.8" cy="179.72" r="2.05"/><circle cx="531.05" cy="179.59" r="2.05"/><circle cx="532.3" cy="179.47" r="2.05"/><circle cx="533.55" cy="179.34" r="2.05"/><circle cx="534.8" cy="179.22" r="2.05"/><circle cx="536.05" cy="179.09" r="2.05"/><circle cx="537.3" cy="178.97" r="2.05"/><circle cx="538.55" cy="178.84" r="2.05"/><circle cx="539.8" cy="178.72" r="2.05"/><circle cx="541.05" cy="178.61" r="2.05"/><circle cx="542.3" cy="178.49" r="2.05"/><circle cx="543.55" cy="178.38" r="2.05"/><circle cx="544.8" cy="178.27" r="2.05"/><circle cx="546.05" cy="178.16" r="2.05"/><circle cx="547.3" cy="178.04" r="2.05"/><circle cx="548.55" cy="177.93" r="2.05"/><circle cx="549.8" cy="177.82" r="2.05"/><circle cx="551.05" cy="177.71" r="2.05"/><circle cx="552.3" cy="177.59" r="2.05"/><circle cx="553.55" cy="177.48" r="2.05"/><circle cx="554.8" cy="177.37" r="2.05"/><circle cx="556.05" cy="177.26" r="2.05"/><circle cx="557.3" cy="177.14" r="2.05"/><circle cx="558.55" cy="177.03" r="2.05"/><circle cx="559.8" cy="176.92" r="2.05"/><circle cx="561.05" cy="176.8" r="2.05"/><circle cx="562.3" cy="176.67" r="2.05"/><circle cx="563.55" cy="176.55" r="2.05"/><circle cx="564.8" cy="176.42" r="2.05"/><circle cx="566.05" cy="176.3" r="2.05"/><circle cx="567.3" cy="176.17" r="2.05"/><circle cx="568.55" cy="176.05" r="2.05"/><circle cx="569.8" cy="175.92" r="2.05"/><circle cx="571.05" cy="175.78" r="2.05"/><circle cx="572.3" cy="175.64" r="2.05"/><circle cx="573.55" cy="175.5" r="2.05"/><circle cx="574.8" cy="175.36" r="2.05"/><circle cx="576.05" cy="175.22" r="2.05"/><circle cx="577.3" cy="175.08" r="2.05"/><circle cx="578.55" cy="174.92" r="2.05"/><circle cx="579.8" cy="174.72" r="2.05"/><circle cx="581.05" cy="174.53" r="2.05"/><circle cx="582.3" cy="174.34" r="2.05"/><circle cx="583.55" cy="174.15" r="2.05"/><circle cx="584.8" cy="173.95" r="2.05"/><circle cx="585.8" cy="173.8" r="2.05"/></g></g>
<g filter="url(#sh)"><polyline points="78.4,482.7 80.1,463.7 81.7,432.6 83.9,421.1 86.1,393.1 87.9,389.1 89.1,385.4 90.25,379.1 91.6,372.5 93,362.25 94.1,351.25 95.4,347.75 96.5,340.25 98.1,334.4 99.4,326 100.4,311.9 101.6,307.2 102.9,302.4 104.5,295.3 106.5,291.2 107.6,283.4 109.6,279.3 111.7,275.7 112.75,271 116.9,266.9 121,264.8 126.2,260.2 129.3,256.6 135,254.2 145,251.6 157.5,250.5 170,250.1 185,249.3 195,248.6 206,247 216.25,246.5 228.7,245.6 237.5,243.2 247.5,240.2 260,236.6 270,233.5 275,231.5 280,225.8 285,220.8 290,216 295,211 300,206 305,200.3 311,190.8 315,185.5 319,179.5 323,175.5 324.5,170.5 330,164 331.5,160.5 335,156 339,151 342,146.5 345,142.3 347.5,138 350,133.5 356.5,130 359,124.5 363,121.5 368,118.5 373,115 378,111 383,109 390,105 400,100.8 410,97 420,93.5 430,89.2 440,85.9 450,82.7 460,79.2 470,74.9 480,71.3 490,68.7 500,67 510,66.2 520,65.6 530,65.1 540,64.3 550,63.6 560,62.6 570,61.2 580,59.3 585.8,58.4" fill="none" stroke="#4a9cf0" stroke-width="1.8" stroke-linejoin="round"/><g fill="#fff" stroke="#4a9cf0" stroke-width="1.05"><circle cx="80.1" cy="463.7" r="2.05"/><circle cx="81.7" cy="432.6" r="2.05"/><circle cx="83.9" cy="421.1" r="2.05"/><circle cx="86.1" cy="393.1" r="2.05"/><circle cx="87.9" cy="389.1" r="2.05"/><circle cx="89.1" cy="385.4" r="2.05"/><circle cx="90.25" cy="379.1" r="2.05"/><circle cx="91.6" cy="372.5" r="2.05"/><circle cx="93" cy="362.25" r="2.05"/><circle cx="94.1" cy="351.25" r="2.05"/><circle cx="95.4" cy="347.75" r="2.05"/><circle cx="96.5" cy="340.25" r="2.05"/><circle cx="98.1" cy="334.4" r="2.05"/><circle cx="99.4" cy="326" r="2.05"/><circle cx="100.4" cy="311.9" r="2.05"/><circle cx="101.6" cy="307.2" r="2.05"/><circle cx="102.9" cy="302.4" r="2.05"/><circle cx="104.5" cy="295.3" r="2.05"/><circle cx="106.5" cy="291.2" r="2.05"/><circle cx="107.6" cy="283.4" r="2.05"/><circle cx="109.6" cy="279.3" r="2.05"/><circle cx="111.7" cy="275.7" r="2.05"/><circle cx="112.75" cy="271" r="2.05"/><circle cx="114" cy="269.77" r="2.05"/><circle cx="115.25" cy="268.53" r="2.05"/><circle cx="116.5" cy="267.3" r="2.05"/><circle cx="117.75" cy="266.46" r="2.05"/><circle cx="119" cy="265.82" r="2.05"/><circle cx="120.25" cy="265.18" r="2.05"/><circle cx="121.5" cy="264.36" r="2.05"/><circle cx="122.75" cy="263.25" r="2.05"/><circle cx="124" cy="262.15" r="2.05"/><circle cx="125.25" cy="261.04" r="2.05"/><circle cx="126.5" cy="259.85" r="2.05"/><circle cx="127.75" cy="258.4" r="2.05"/><circle cx="129" cy="256.95" r="2.05"/><circle cx="130.25" cy="256.2" r="2.05"/><circle cx="131.5" cy="255.67" r="2.05"/><circle cx="132.75" cy="255.15" r="2.05"/><circle cx="134" cy="254.62" r="2.05"/><circle cx="135.25" cy="254.13" r="2.05"/><circle cx="136.5" cy="253.81" r="2.05"/><circle cx="137.75" cy="253.48" r="2.05"/><circle cx="139" cy="253.16" r="2.05"/><circle cx="140.25" cy="252.83" r="2.05"/><circle cx="141.5" cy="252.51" r="2.05"/><circle cx="142.75" cy="252.19" r="2.05"/><circle cx="144" cy="251.86" r="2.05"/><circle cx="145.25" cy="251.58" r="2.05"/><circle cx="146.5" cy="251.47" r="2.05"/><circle cx="147.75" cy="251.36" r="2.05"/><circle cx="149" cy="251.25" r="2.05"/><circle cx="150.25" cy="251.14" r="2.05"/><circle cx="151.5" cy="251.03" r="2.05"/><circle cx="152.75" cy="250.92" r="2.05"/><circle cx="154" cy="250.81" r="2.05"/><circle cx="155.25" cy="250.7" r="2.05"/><circle cx="156.5" cy="250.59" r="2.05"/><circle cx="157.75" cy="250.49" r="2.05"/><circle cx="159" cy="250.45" r="2.05"/><circle cx="160.25" cy="250.41" r="2.05"/><circle cx="161.5" cy="250.37" r="2.05"/><circle cx="162.75" cy="250.33" r="2.05"/><circle cx="164" cy="250.29" r="2.05"/><circle cx="165.25" cy="250.25" r="2.05"/><circle cx="166.5" cy="250.21" r="2.05"/><circle cx="167.75" cy="250.17" r="2.05"/><circle cx="169" cy="250.13" r="2.05"/><circle cx="170.25" cy="250.09" r="2.05"/><circle cx="171.5" cy="250.02" r="2.05"/><circle cx="172.75" cy="249.95" r="2.05"/><circle cx="174" cy="249.89" r="2.05"/><circle cx="175.25" cy="249.82" r="2.05"/><circle cx="176.5" cy="249.75" r="2.05"/><circle cx="177.75" cy="249.69" r="2.05"/><circle cx="179" cy="249.62" r="2.05"/><circle cx="180.25" cy="249.55" r="2.05"/><circle cx="181.5" cy="249.49" r="2.05"/><circle cx="182.75" cy="249.42" r="2.05"/><circle cx="184" cy="249.35" r="2.05"/><circle cx="185.25" cy="249.28" r="2.05"/><circle cx="186.5" cy="249.2" r="2.05"/><circle cx="187.75" cy="249.11" r="2.05"/><circle cx="189" cy="249.02" r="2.05"/><circle cx="190.25" cy="248.93" r="2.05"/><circle cx="191.5" cy="248.84" r="2.05"/><circle cx="192.75" cy="248.76" r="2.05"/><circle cx="194" cy="248.67" r="2.05"/><circle cx="195.25" cy="248.56" r="2.05"/><circle cx="196.5" cy="248.38" r="2.05"/><circle cx="197.75" cy="248.2" r="2.05"/><circle cx="199" cy="248.02" r="2.05"/><circle cx="200.25" cy="247.84" r="2.05"/><circle cx="201.5" cy="247.65" r="2.05"/><circle cx="202.75" cy="247.47" r="2.05"/><circle cx="204" cy="247.29" r="2.05"/><circle cx="205.25" cy="247.11" r="2.05"/><circle cx="206.5" cy="246.98" r="2.05"/><circle cx="207.75" cy="246.91" r="2.05"/><circle cx="209" cy="246.85" r="2.05"/><circle cx="210.25" cy="246.79" r="2.05"/><circle cx="211.5" cy="246.73" r="2.05"/><circle cx="212.75" cy="246.67" r="2.05"/><circle cx="214" cy="246.61" r="2.05"/><circle cx="215.25" cy="246.55" r="2.05"/><circle cx="216.5" cy="246.48" r="2.05"/><circle cx="217.75" cy="246.39" r="2.05"/><circle cx="219" cy="246.3" r="2.05"/><circle cx="220.25" cy="246.21" r="2.05"/><circle cx="221.5" cy="246.12" r="2.05"/><circle cx="222.75" cy="246.03" r="2.05"/><circle cx="224" cy="245.94" r="2.05"/><circle cx="225.25" cy="245.85" r="2.05"/><circle cx="226.5" cy="245.76" r="2.05"/><circle cx="227.75" cy="245.67" r="2.05"/><circle cx="229" cy="245.52" r="2.05"/><circle cx="230.25" cy="245.18" r="2.05"/><circle cx="231.5" cy="244.84" r="2.05"/><circle cx="232.75" cy="244.5" r="2.05"/><circle cx="234" cy="244.15" r="2.05"/><circle cx="235.25" cy="243.81" r="2.05"/><circle cx="236.5" cy="243.47" r="2.05"/><circle cx="237.75" cy="243.12" r="2.05"/><circle cx="239" cy="242.75" r="2.05"/><circle cx="240.25" cy="242.38" r="2.05"/><circle cx="241.5" cy="242" r="2.05"/><circle cx="242.75" cy="241.62" r="2.05"/><circle cx="244" cy="241.25" r="2.05"/><circle cx="245.25" cy="240.88" r="2.05"/><circle cx="246.5" cy="240.5" r="2.05"/><circle cx="247.75" cy="240.13" r="2.05"/><circle cx="249" cy="239.77" r="2.05"/><circle cx="250.25" cy="239.41" r="2.05"/><circle cx="251.5" cy="239.05" r="2.05"/><circle cx="252.75" cy="238.69" r="2.05"/><circle cx="254" cy="238.33" r="2.05"/><circle cx="255.25" cy="237.97" r="2.05"/><circle cx="256.5" cy="237.61" r="2.05"/><circle cx="257.75" cy="237.25" r="2.05"/><circle cx="259" cy="236.89" r="2.05"/><circle cx="260.25" cy="236.52" r="2.05"/><circle cx="261.5" cy="236.13" r="2.05"/><circle cx="262.75" cy="235.75" r="2.05"/><circle cx="264" cy="235.36" r="2.05"/><circle cx="265.25" cy="234.97" r="2.05"/><circle cx="266.5" cy="234.59" r="2.05"/><circle cx="267.75" cy="234.2" r="2.05"/><circle cx="269" cy="233.81" r="2.05"/><circle cx="270.25" cy="233.4" r="2.05"/><circle cx="271.5" cy="232.9" r="2.05"/><circle cx="272.75" cy="232.4" r="2.05"/><circle cx="274" cy="231.9" r="2.05"/><circle cx="275.25" cy="231.22" r="2.05"/><circle cx="276.5" cy="229.79" r="2.05"/><circle cx="277.75" cy="228.37" r="2.05"/><circle cx="279" cy="226.94" r="2.05"/><circle cx="280.25" cy="225.55" r="2.05"/><circle cx="281.5" cy="224.3" r="2.05"/><circle cx="282.75" cy="223.05" r="2.05"/><circle cx="284" cy="221.8" r="2.05"/><circle cx="285.25" cy="220.56" r="2.05"/><circle cx="286.5" cy="219.36" r="2.05"/><circle cx="287.75" cy="218.16" r="2.05"/><circle cx="289" cy="216.96" r="2.05"/><circle cx="290.25" cy="215.75" r="2.05"/><circle cx="291.5" cy="214.5" r="2.05"/><circle cx="292.75" cy="213.25" r="2.05"/><circle cx="294" cy="212" r="2.05"/><circle cx="295.25" cy="210.75" r="2.05"/><circle cx="296.5" cy="209.5" r="2.05"/><circle cx="297.75" cy="208.25" r="2.05"/><circle cx="299" cy="207" r="2.05"/><circle cx="300.25" cy="205.72" r="2.05"/><circle cx="301.5" cy="204.29" r="2.05"/><circle cx="302.75" cy="202.87" r="2.05"/><circle cx="304" cy="201.44" r="2.05"/><circle cx="305.25" cy="199.9" r="2.05"/><circle cx="306.5" cy="197.93" r="2.05"/><circle cx="307.75" cy="195.95" r="2.05"/><circle cx="309" cy="193.97" r="2.05"/><circle cx="310.25" cy="191.99" r="2.05"/><circle cx="311.5" cy="190.14" r="2.05"/><circle cx="312.75" cy="188.48" r="2.05"/><circle cx="314" cy="186.82" r="2.05"/><circle cx="315.25" cy="185.12" r="2.05"/><circle cx="316.5" cy="183.25" r="2.05"/><circle cx="317.75" cy="181.38" r="2.05"/><circle cx="319" cy="179.5" r="2.05"/><circle cx="320.25" cy="178.25" r="2.05"/><circle cx="321.5" cy="177" r="2.05"/><circle cx="322.75" cy="175.75" r="2.05"/><circle cx="324" cy="172.17" r="2.05"/><circle cx="325.25" cy="169.61" r="2.05"/><circle cx="326.5" cy="168.14" r="2.05"/><circle cx="327.75" cy="166.66" r="2.05"/><circle cx="329" cy="165.18" r="2.05"/><circle cx="330.25" cy="163.42" r="2.05"/><circle cx="331.5" cy="160.5" r="2.05"/><circle cx="332.75" cy="158.89" r="2.05"/><circle cx="334" cy="157.29" r="2.05"/><circle cx="335.25" cy="155.69" r="2.05"/><circle cx="336.5" cy="154.12" r="2.05"/><circle cx="337.75" cy="152.56" r="2.05"/><circle cx="339" cy="151" r="2.05"/><circle cx="340.25" cy="149.12" r="2.05"/><circle cx="341.5" cy="147.25" r="2.05"/><circle cx="342.75" cy="145.45" r="2.05"/><circle cx="344" cy="143.7" r="2.05"/><circle cx="345.25" cy="141.87" r="2.05"/><circle cx="346.5" cy="139.72" r="2.05"/><circle cx="347.75" cy="137.55" r="2.05"/><circle cx="349" cy="135.3" r="2.05"/><circle cx="350.25" cy="133.37" r="2.05"/><circle cx="351.5" cy="132.69" r="2.05"/><circle cx="352.75" cy="132.02" r="2.05"/><circle cx="354" cy="131.35" r="2.05"/><circle cx="355.25" cy="130.67" r="2.05"/><circle cx="356.5" cy="130" r="2.05"/><circle cx="357.75" cy="127.25" r="2.05"/><circle cx="359" cy="124.5" r="2.05"/><circle cx="360.25" cy="123.56" r="2.05"/><circle cx="361.5" cy="122.62" r="2.05"/><circle cx="362.75" cy="121.69" r="2.05"/><circle cx="364" cy="120.9" r="2.05"/><circle cx="365.25" cy="120.15" r="2.05"/><circle cx="366.5" cy="119.4" r="2.05"/><circle cx="367.75" cy="118.65" r="2.05"/><circle cx="369" cy="117.8" r="2.05"/><circle cx="370.25" cy="116.92" r="2.05"/><circle cx="371.5" cy="116.05" r="2.05"/><circle cx="372.75" cy="115.17" r="2.05"/><circle cx="374" cy="114.2" r="2.05"/><circle cx="375.25" cy="113.2" r="2.05"/><circle cx="376.5" cy="112.2" r="2.05"/><circle cx="377.75" cy="111.2" r="2.05"/><circle cx="379" cy="110.6" r="2.05"/><circle cx="380.25" cy="110.1" r="2.05"/><circle cx="381.5" cy="109.6" r="2.05"/><circle cx="382.75" cy="109.1" r="2.05"/><circle cx="384" cy="108.43" r="2.05"/><circle cx="385.25" cy="107.71" r="2.05"/><circle cx="386.5" cy="107" r="2.05"/><circle cx="387.75" cy="106.29" r="2.05"/><circle cx="389" cy="105.57" r="2.05"/><circle cx="390.25" cy="104.89" r="2.05"/><circle cx="391.5" cy="104.37" r="2.05"/><circle cx="392.75" cy="103.84" r="2.05"/><circle cx="394" cy="103.32" r="2.05"/><circle cx="395.25" cy="102.8" r="2.05"/><circle cx="396.5" cy="102.27" r="2.05"/><circle cx="397.75" cy="101.75" r="2.05"/><circle cx="399" cy="101.22" r="2.05"/><circle cx="400.25" cy="100.7" r="2.05"/><circle cx="401.5" cy="100.23" r="2.05"/><circle cx="402.75" cy="99.75" r="2.05"/><circle cx="404" cy="99.28" r="2.05"/><circle cx="405.25" cy="98.8" r="2.05"/><circle cx="406.5" cy="98.33" r="2.05"/><circle cx="407.75" cy="97.86" r="2.05"/><circle cx="409" cy="97.38" r="2.05"/><circle cx="410.25" cy="96.91" r="2.05"/><circle cx="411.5" cy="96.47" r="2.05"/><circle cx="412.75" cy="96.04" r="2.05"/><circle cx="414" cy="95.6" r="2.05"/><circle cx="415.25" cy="95.16" r="2.05"/><circle cx="416.5" cy="94.72" r="2.05"/><circle cx="417.75" cy="94.29" r="2.05"/><circle cx="419" cy="93.85" r="2.05"/><circle cx="420.25" cy="93.39" r="2.05"/><circle cx="421.5" cy="92.86" r="2.05"/><circle cx="422.75" cy="92.32" r="2.05"/><circle cx="424" cy="91.78" r="2.05"/><circle cx="425.25" cy="91.24" r="2.05"/><circle cx="426.5" cy="90.7" r="2.05"/><circle cx="427.75" cy="90.17" r="2.05"/><circle cx="429" cy="89.63" r="2.05"/><circle cx="430.25" cy="89.12" r="2.05"/><circle cx="431.5" cy="88.7" r="2.05"/><circle cx="432.75" cy="88.29" r="2.05"/><circle cx="434" cy="87.88" r="2.05"/><circle cx="435.25" cy="87.47" r="2.05"/><circle cx="436.5" cy="87.06" r="2.05"/><circle cx="437.75" cy="86.64" r="2.05"/><circle cx="439" cy="86.23" r="2.05"/><circle cx="440.25" cy="85.82" r="2.05"/><circle cx="441.5" cy="85.42" r="2.05"/><circle cx="442.75" cy="85.02" r="2.05"/><circle cx="444" cy="84.62" r="2.05"/><circle cx="445.25" cy="84.22" r="2.05"/><circle cx="446.5" cy="83.82" r="2.05"/><circle cx="447.75" cy="83.42" r="2.05"/><circle cx="449" cy="83.02" r="2.05"/><circle cx="450.25" cy="82.61" r="2.05"/><circle cx="451.5" cy="82.17" r="2.05"/><circle cx="452.75" cy="81.74" r="2.05"/><circle cx="454" cy="81.3" r="2.05"/><circle cx="455.25" cy="80.86" r="2.05"/><circle cx="456.5" cy="80.42" r="2.05"/><circle cx="457.75" cy="79.99" r="2.05"/><circle cx="459" cy="79.55" r="2.05"/><circle cx="460.25" cy="79.09" r="2.05"/><circle cx="461.5" cy="78.56" r="2.05"/><circle cx="462.75" cy="78.02" r="2.05"/><circle cx="464" cy="77.48" r="2.05"/><circle cx="465.25" cy="76.94" r="2.05"/><circle cx="466.5" cy="76.41" r="2.05"/><circle cx="467.75" cy="75.87" r="2.05"/><circle cx="469" cy="75.33" r="2.05"/><circle cx="470.25" cy="74.81" r="2.05"/><circle cx="471.5" cy="74.36" r="2.05"/><circle cx="472.75" cy="73.91" r="2.05"/><circle cx="474" cy="73.46" r="2.05"/><circle cx="475.25" cy="73.01" r="2.05"/><circle cx="476.5" cy="72.56" r="2.05"/><circle cx="477.75" cy="72.11" r="2.05"/><circle cx="479" cy="71.66" r="2.05"/><circle cx="480.25" cy="71.23" r="2.05"/><circle cx="481.5" cy="70.91" r="2.05"/><circle cx="482.75" cy="70.58" r="2.05"/><circle cx="484" cy="70.26" r="2.05"/><circle cx="485.25" cy="69.94" r="2.05"/><circle cx="486.5" cy="69.61" r="2.05"/><circle cx="487.75" cy="69.28" r="2.05"/><circle cx="489" cy="68.96" r="2.05"/><circle cx="490.25" cy="68.66" r="2.05"/><circle cx="491.5" cy="68.45" r="2.05"/><circle cx="492.75" cy="68.23" r="2.05"/><circle cx="494" cy="68.02" r="2.05"/><circle cx="495.25" cy="67.81" r="2.05"/><circle cx="496.5" cy="67.59" r="2.05"/><circle cx="497.75" cy="67.38" r="2.05"/><circle cx="499" cy="67.17" r="2.05"/><circle cx="500.25" cy="66.98" r="2.05"/><circle cx="501.5" cy="66.88" r="2.05"/><circle cx="502.75" cy="66.78" r="2.05"/><circle cx="504" cy="66.68" r="2.05"/><circle cx="505.25" cy="66.58" r="2.05"/><circle cx="506.5" cy="66.48" r="2.05"/><circle cx="507.75" cy="66.38" r="2.05"/><circle cx="509" cy="66.28" r="2.05"/><circle cx="510.25" cy="66.19" r="2.05"/><circle cx="511.5" cy="66.11" r="2.05"/><circle cx="512.75" cy="66.03" r="2.05"/><circle cx="514" cy="65.96" r="2.05"/><circle cx="515.25" cy="65.89" r="2.05"/><circle cx="516.5" cy="65.81" r="2.05"/><circle cx="517.75" cy="65.73" r="2.05"/><circle cx="519" cy="65.66" r="2.05"/><circle cx="520.25" cy="65.59" r="2.05"/><circle cx="521.5" cy="65.52" r="2.05"/><circle cx="522.75" cy="65.46" r="2.05"/><circle cx="524" cy="65.4" r="2.05"/><circle cx="525.25" cy="65.34" r="2.05"/><circle cx="526.5" cy="65.27" r="2.05"/><circle cx="527.75" cy="65.21" r="2.05"/><circle cx="529" cy="65.15" r="2.05"/><circle cx="530.25" cy="65.08" r="2.05"/><circle cx="531.5" cy="64.98" r="2.05"/><circle cx="532.75" cy="64.88" r="2.05"/><circle cx="534" cy="64.78" r="2.05"/><circle cx="535.25" cy="64.68" r="2.05"/><circle cx="536.5" cy="64.58" r="2.05"/><circle cx="537.75" cy="64.48" r="2.05"/><circle cx="539" cy="64.38" r="2.05"/><circle cx="540.25" cy="64.28" r="2.05"/><circle cx="541.5" cy="64.19" r="2.05"/><circle cx="542.75" cy="64.11" r="2.05"/><circle cx="544" cy="64.02" r="2.05"/><circle cx="545.25" cy="63.93" r="2.05"/><circle cx="546.5" cy="63.84" r="2.05"/><circle cx="547.75" cy="63.76" r="2.05"/><circle cx="549" cy="63.67" r="2.05"/><circle cx="550.25" cy="63.58" r="2.05"/><circle cx="551.5" cy="63.45" r="2.05"/><circle cx="552.75" cy="63.33" r="2.05"/><circle cx="554" cy="63.2" r="2.05"/><circle cx="555.25" cy="63.08" r="2.05"/><circle cx="556.5" cy="62.95" r="2.05"/><circle cx="557.75" cy="62.83" r="2.05"/><circle cx="559" cy="62.7" r="2.05"/><circle cx="560.25" cy="62.57" r="2.05"/><circle cx="561.5" cy="62.39" r="2.05"/><circle cx="562.75" cy="62.22" r="2.05"/><circle cx="564" cy="62.04" r="2.05"/><circle cx="565.25" cy="61.87" r="2.05"/><circle cx="566.5" cy="61.69" r="2.05"/><circle cx="567.75" cy="61.52" r="2.05"/><circle cx="569" cy="61.34" r="2.05"/><circle cx="570.25" cy="61.15" r="2.05"/><circle cx="571.5" cy="60.91" r="2.05"/><circle cx="572.75" cy="60.68" r="2.05"/><circle cx="574" cy="60.44" r="2.05"/><circle cx="575.25" cy="60.2" r="2.05"/><circle cx="576.5" cy="59.96" r="2.05"/><circle cx="577.75" cy="59.73" r="2.05"/><circle cx="579" cy="59.49" r="2.05"/><circle cx="580.25" cy="59.26" r="2.05"/><circle cx="581.5" cy="59.07" r="2.05"/><circle cx="582.75" cy="58.87" r="2.05"/><circle cx="584" cy="58.68" r="2.05"/><circle cx="585.8" cy="58.4" r="2.05"/></g></g>
<path d="M586.5 227.5 L601 212.5" stroke="#5aaaf0" stroke-width="1.6" stroke-dasharray="1.5 1.6" fill="none"/>
<path d="M598 202.5 C600.5 200.8 604.8 201.5 604.2 205 L603.7 208.3 M601.7 204.5 L603.7 208.5 L607.6 206.2" stroke="#5aaaf0" stroke-width="0.85" fill="none" stroke-linejoin="round"/>
<path d="M586 341 L603 315" stroke="#e2644f" stroke-width="1.7" stroke-dasharray="1.5 1.3" fill="none"/>
<path d="M610.6 315.5 C612.6 311 610.5 308.6 607 310.3 L603.8 312.3 M605.5 308.3 L603.6 312.3 L608.4 313.4" stroke="#e2644f" stroke-width="0.85" fill="none" stroke-linejoin="round"/>
<path d="M588 335.5 L592 329 L597 323.7 L603 319 L610 317 L617.5 316.8 L625 318.5 L631.8 321.5 L638.5 325.2 L644.8 329.2 L650.8 333.8 L656.4 338.8 L662 343.6 L667.4 348.8 L672.6 354.3 L678.1 359.7 L682.9 365.2 L688 370.7 L692.8 376.6 L697.7 382.1 L702.1 388.1 L706.9 393.8 L711.5 399.9" stroke="#000" stroke-opacity="0.07" stroke-width="6" fill="none" filter="url(#blur3)" transform="translate(0,3.5)"/>
<g fill="#f07cc2"><circle cx="588" cy="335.5" r="1.15"/><circle cx="592" cy="329" r="1.15"/><circle cx="597" cy="323.7" r="1.15"/><circle cx="603" cy="319" r="1.15"/><circle cx="610" cy="317" r="1.15"/><circle cx="617.5" cy="316.8" r="1.15"/><circle cx="625" cy="318.5" r="1.15"/><circle cx="631.8" cy="321.5" r="1.15"/><circle cx="638.5" cy="325.2" r="1.15"/><circle cx="644.8" cy="329.2" r="1.15"/><circle cx="650.8" cy="333.8" r="1.15"/><circle cx="656.4" cy="338.8" r="1.15"/><circle cx="662" cy="343.6" r="1.15"/><circle cx="667.4" cy="348.8" r="1.15"/><circle cx="672.6" cy="354.3" r="1.15"/><circle cx="678.1" cy="359.7" r="1.15"/><circle cx="682.9" cy="365.2" r="1.15"/><circle cx="688" cy="370.7" r="1.15"/><circle cx="692.8" cy="376.6" r="1.15"/><circle cx="697.7" cy="382.1" r="1.15"/><circle cx="702.1" cy="388.1" r="1.15"/><circle cx="706.9" cy="393.8" r="1.15"/><circle cx="711.5" cy="399.9" r="1.15"/></g>
<text y="22.3" font-family="Liberation Serif" font-size="10.3" fill="#4a9ff0" stroke="#4a9ff0" stroke-width="0.2"><tspan x="65" font-weight="bold" textLength="23.5" lengthAdjust="spacingAndGlyphs">1954</tspan><tspan x="91.2" textLength="152.5" lengthAdjust="spacingAndGlyphs">new daily infections (7-day average)</tspan></text>
<text x="65" y="33.7" font-family="Liberation Serif" font-size="10.3" fill="#222" stroke="#222" stroke-width="0.28" text-anchor="start" font-weight="normal" textLength="121" lengthAdjust="spacingAndGlyphs">28.1% positive tests (higher)</text>
<text y="45.0" font-family="Liberation Serif" font-size="10.3" fill="#c0392b" stroke="#c0392b" stroke-width="0.2"><tspan x="65" font-weight="bold" textLength="11" lengthAdjust="spacingAndGlyphs">69</tspan><tspan x="78.6" textLength="139.4" lengthAdjust="spacingAndGlyphs">new daily deaths (7-day average)</tspan></text>
<text x="65" y="56.2" font-family="Liberation Serif" font-size="10.3" fill="#222" stroke="#222" stroke-width="0.28" text-anchor="start" font-weight="normal" textLength="85" lengthAdjust="spacingAndGlyphs">R value 1.26 (lower)</text>
<text x="73.7" y="254.2" font-family="Liberation Serif" font-size="9.8" fill="#222" stroke="#222" stroke-width="0.28" text-anchor="start" font-weight="normal" textLength="40.4" lengthAdjust="spacingAndGlyphs">Lockdown</text>
<text x="78.9" y="263.9" font-family="Liberation Serif" font-size="9.8" fill="#222" stroke="#222" stroke-width="0.28" text-anchor="start" font-weight="normal" textLength="29.8" lengthAdjust="spacingAndGlyphs">in place</text>
<text x="130.7" y="205.8" font-family="Liberation Serif" font-size="9.8" fill="#222" stroke="#222" stroke-width="0.28" text-anchor="start" font-weight="normal" textLength="39.5" lengthAdjust="spacingAndGlyphs">Phase 1 of</text>
<text x="130.7" y="215.7" font-family="Liberation Serif" font-size="9.8" fill="#222" stroke="#222" stroke-width="0.28" text-anchor="start" font-weight="normal" textLength="39.3" lengthAdjust="spacingAndGlyphs">reopening</text>
<text x="195.8" y="201.1" font-family="Liberation Serif" font-size="9.8" fill="#222" stroke="#222" stroke-width="0.28" text-anchor="start" font-weight="normal" textLength="36.6" lengthAdjust="spacingAndGlyphs">Curfew is</text>
<text x="212.3" y="211.1" font-family="Liberation Serif" font-size="9.8" fill="#222" stroke="#222" stroke-width="0.28" text-anchor="start" font-weight="normal" textLength="20.1" lengthAdjust="spacingAndGlyphs">lifted</text>
<text x="246.7" y="201.1" font-family="Liberation Serif" font-size="9.8" fill="#222" stroke="#222" stroke-width="0.28" text-anchor="start" font-weight="normal" textLength="45.3" lengthAdjust="spacingAndGlyphs">Borders are</text>
<text x="246.7" y="211.1" font-family="Liberation Serif" font-size="9.8" fill="#222" stroke="#222" stroke-width="0.28" text-anchor="start" font-weight="normal" textLength="27.9" lengthAdjust="spacingAndGlyphs">opened</text>
<path d="M93.5 267.2V324" stroke="#1a1a1a" stroke-width="1.1"/><path d="M91.3 322.4L95.7 322.4L93.5 327Z" fill="#111"/>
<path d="M150.25 220.5V243.4" stroke="#1a1a1a" stroke-width="1.1"/><path d="M148.05 241.8L152.45 241.8L150.25 246.4Z" fill="#111"/>
<path d="M230.85 213.2V236.3" stroke="#1a1a1a" stroke-width="1.1"/><path d="M228.65 234.7L233.05 234.7L230.85 239.3Z" fill="#111"/>
<path d="M252.6 212.5V230.8" stroke="#1a1a1a" stroke-width="1.1"/><path d="M250.4 229.2L254.8 229.2L252.6 233.8Z" fill="#111"/>
<text x="581.8" y="45.8" font-family="Liberation Serif" font-size="9.2" fill="#3f7fc4" stroke="#3f7fc4" stroke-width="0.28" text-anchor="end" font-weight="normal" textLength="43.8" lengthAdjust="spacingAndGlyphs">2.4% of the</text>
<text x="581.8" y="54" font-family="Liberation Serif" font-size="9.2" fill="#3f7fc4" stroke="#3f7fc4" stroke-width="0.28" text-anchor="end" font-weight="normal" textLength="42" lengthAdjust="spacingAndGlyphs">population</text>
<text x="581.9" y="160.25" font-family="Liberation Serif" font-size="9.2" fill="#b23a2e" stroke="#b23a2e" stroke-width="0.28" text-anchor="end" font-weight="normal" textLength="56.9" lengthAdjust="spacingAndGlyphs">11.9% average</text>
<text x="581.9" y="170" font-family="Liberation Serif" font-size="9.2" fill="#b23a2e" stroke="#b23a2e" stroke-width="0.28" text-anchor="end" font-weight="normal" textLength="48.9" lengthAdjust="spacingAndGlyphs">excess death</text>
<text x="603.6" y="232" font-family="Liberation Serif" font-size="9.2" fill="#62aef0" stroke="#62aef0" stroke-width="0.28" text-anchor="start" font-weight="normal" textLength="88.8" lengthAdjust="spacingAndGlyphs">Increase slowing down</text>
<text x="607.5" y="347" font-family="Liberation Serif" font-size="9.2" fill="#e0624e" stroke="#e0624e" stroke-width="0.28" text-anchor="start" font-weight="normal" textLength="40.5" lengthAdjust="spacingAndGlyphs">Increasing</text>
<text transform="translate(702.6,380) rotate(50)" text-anchor="middle" font-family="Liberation Serif" font-size="9.4" fill="#ee8ac6" textLength="40.5" lengthAdjust="spacingAndGlyphs">Projection</text>
<g filter="url(#shflag)"><rect x="296.2" y="13.3" width="36.7" height="21.4" fill="#d42b27"/></g>
<circle cx="315.2" cy="23.8" r="5.4" fill="#fff"/>
<circle cx="316.6" cy="23.8" r="4.3" fill="#d42b27"/>
<text x="314.3" y="28.9" text-anchor="middle" font-family="Liberation Sans" font-size="13.8" fill="#000" stroke="#000" stroke-width="0.35" textLength="16.0" lengthAdjust="spacingAndGlyphs">TN</text>
</svg></body></html>
